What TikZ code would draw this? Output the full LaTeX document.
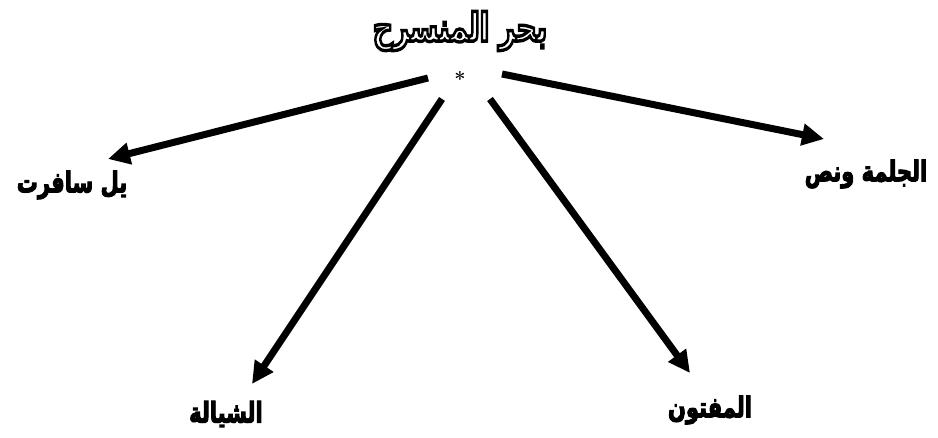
\documentclass[tikz,border=0pt]{standalone}
\usepackage{fontspec}
\usepackage{graphicx}
\TeXXeTstate=1
\newfontfamily\arabicfont[Script=Arabic]{DejaVu Sans}
\usetikzlibrary{arrows.meta}
\newcommand{\outlinetext}[1]{{\color{white}\special{pdf:literal direct 2 Tr 2.4 w 0 0 0 RG}#1\special{pdf:literal direct 0 Tr 0.4 w}}}
\newcommand{\heavytext}[1]{{\special{pdf:literal direct 2 Tr 0.9 w 0 0 0 RG}#1\special{pdf:literal direct 0 Tr 0.4 w}}}
\begin{document}
\begin{tikzpicture}[x=1pt,y=-1pt,
  lbl/.style={font=\arabicfont\bfseries\fontsize{21}{24}\selectfont, inner sep=0pt},
  arr/.style={line width=7pt, -{Triangle[length=22pt,width=21pt]}}]
\useasboundingbox (0,0) rectangle (938,438);
\node[inner sep=0pt] (title) at (460,31) {\scalebox{1}[1.4]{\outlinetext{\arabicfont\bfseries\fontsize{28}{30}\selectfont\beginR بحر المنسرح\endR}}};
\node[inner sep=0pt, font=\bfseries\fontsize{20}{20}\selectfont] (star) at (460,79) {*};
\coordinate (s1) at (428,78);
\coordinate (s2) at (502,74);
\coordinate (s3) at (442,99);
\coordinate (s4) at (490,99);
\coordinate (e1) at (108,159);
\coordinate (e2) at (824,139);
\coordinate (e3) at (252,384);
\coordinate (e4) at (690,373);
\node[lbl] (l1) at (72,185) {\scalebox{1}[1.35]{\heavytext{\beginR يل سافرت\endR}}};
\node[lbl] (l2) at (866,174) {\scalebox{1}[1.35]{\heavytext{\beginR الجلمة ونص\endR}}};
\node[lbl] (l3) at (226,414) {\scalebox{1}[1.35]{\heavytext{\beginR الشيالة\endR}}};
\node[lbl] (l4) at (710,410) {\scalebox{1}[1.35]{\heavytext{\beginR المفتون\endR}}};
\draw[arr] (s1) -- (e1);
\draw[arr] (s2) -- (e2);
\draw[arr] (s3) -- (e3);
\draw[arr] (s4) -- (e4);
\end{tikzpicture}
\end{document}
